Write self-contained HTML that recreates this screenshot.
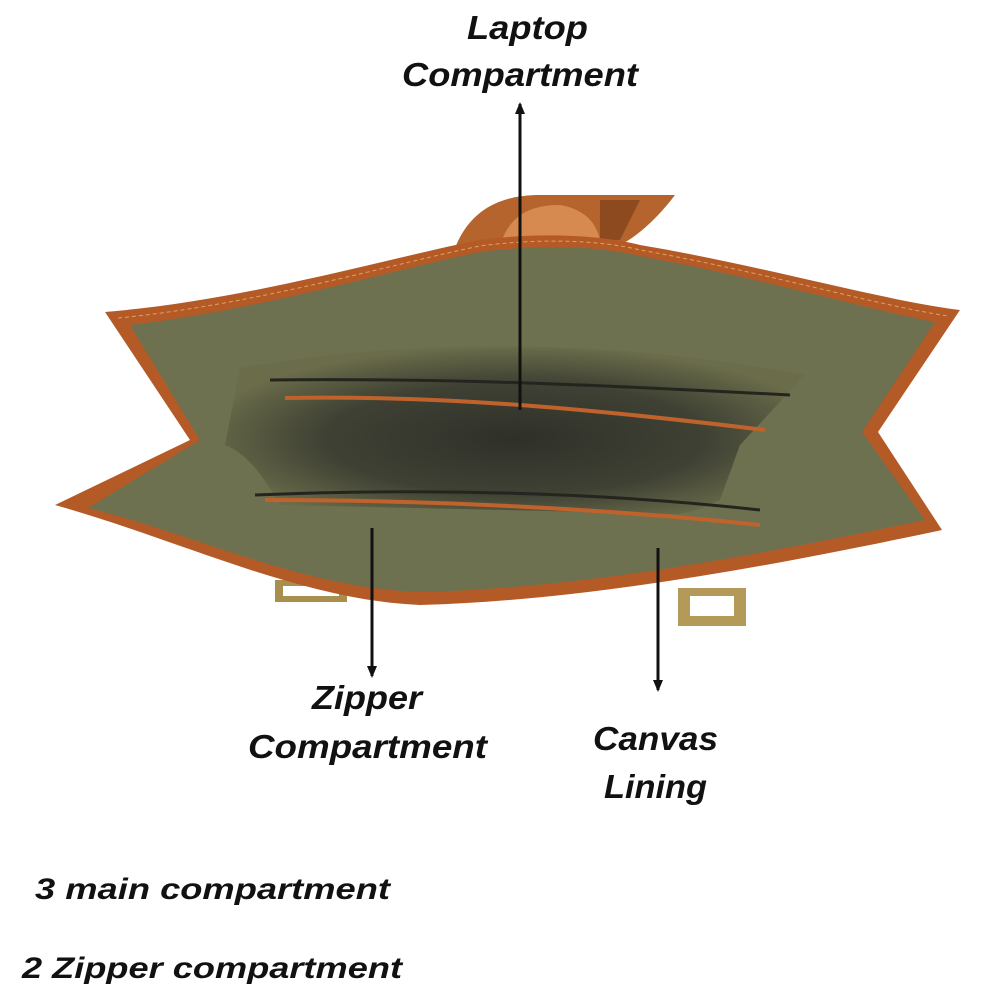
<!DOCTYPE html>
<html><head><meta charset="utf-8"><style>
html,body{margin:0;padding:0;background:#fff;}
svg{display:block}
text{font-family:"Liberation Sans",sans-serif;font-weight:bold;font-style:italic;fill:#111;}
</style></head><body>
<svg width="1000" height="1000" viewBox="0 0 1000 1000">
<defs>
<marker id="ah" markerUnits="userSpaceOnUse" markerWidth="12" markerHeight="10" refX="10" refY="5" orient="auto"><path d="M0,0 L12,5 L0,10 Z" fill="#111"/></marker>
<radialGradient id="inner" cx="50%" cy="55%" r="55%"><stop offset="0" stop-color="#2f3029"/><stop offset="0.6" stop-color="#3f4134"/><stop offset="1" stop-color="#6a6c4a"/></radialGradient>
</defs>
<path d="M455,248 C470,210 500,195 540,195 L675,195 C660,215 640,235 620,245 Z" fill="#b5642e"/>
<path d="M500,245 C510,215 530,205 560,205 C590,210 600,230 600,245 Z" fill="#d78a4f"/>
<path d="M600,200 L640,200 L620,240 L600,240 Z" fill="#8e4a1f"/>
<rect x="275" y="580" width="72" height="22" fill="#a98f4e"/>
<rect x="283" y="586" width="56" height="10" fill="#fff"/>
<rect x="678" y="588" width="68" height="38" fill="#b49a58"/>
<rect x="690" y="596" width="44" height="20" fill="#fff"/>
<path d="M105,312 C250,300 400,255 480,240 C540,232 600,235 640,245 C760,265 880,300 960,310 L878,432 L942,530 C800,560 600,600 420,605 C300,600 180,540 55,505 L190,440 Z" fill="#b45a26"/>
<path d="M130,325 C260,310 400,268 480,252 C540,244 600,246 640,256 C760,278 870,310 935,322 L862,432 L925,520 C790,548 600,588 420,592 C300,588 190,532 88,508 L200,440 Z" fill="#6e7150"/>
<path d="M118,318 C255,305 400,262 480,246 C540,238 600,240 640,250 C760,271 875,305 948,316" stroke="#e0a060" stroke-width="1" fill="none" stroke-dasharray="4 3"/>
<path d="M240,368 C400,340 600,336 805,375 L740,445 L720,500 C700,510 690,512 680,514 L280,505 C265,480 250,455 225,445 Z" fill="url(#inner)"/>
<path d="M285,398 C450,395 600,410 765,430" stroke="#c0622c" stroke-width="4" fill="none"/>
<path d="M265,500 C420,500 600,508 760,525" stroke="#c0622c" stroke-width="4" fill="none"/>
<path d="M270,380 C450,378 600,385 790,395" stroke="#25251f" stroke-width="3" fill="none"/>
<path d="M255,495 C420,488 600,492 760,510" stroke="#25251f" stroke-width="3" fill="none"/>
<line x1="520" y1="410" x2="520" y2="104" stroke="#111" stroke-width="3" marker-end="url(#ah)"/>
<line x1="372" y1="528" x2="372" y2="676" stroke="#111" stroke-width="3" marker-end="url(#ah)"/>
<line x1="658" y1="548" x2="658" y2="690" stroke="#111" stroke-width="3" marker-end="url(#ah)"/>
<text x="467" y="39" font-size="33" textLength="121" lengthAdjust="spacingAndGlyphs">Laptop</text>
<text x="402" y="86" font-size="33" textLength="236" lengthAdjust="spacingAndGlyphs">Compartment</text>
<text x="312" y="709" font-size="33" textLength="110" lengthAdjust="spacingAndGlyphs">Zipper</text>
<text x="248" y="758" font-size="33" textLength="239" lengthAdjust="spacingAndGlyphs">Compartment</text>
<text x="593" y="750" font-size="33" textLength="125" lengthAdjust="spacingAndGlyphs">Canvas</text>
<text x="604" y="798" font-size="33" textLength="103" lengthAdjust="spacingAndGlyphs">Lining</text>
<text x="35" y="899" font-size="30" textLength="355" lengthAdjust="spacingAndGlyphs">3 main compartment</text>
<text x="22" y="978" font-size="30" textLength="380" lengthAdjust="spacingAndGlyphs">2 Zipper compartment</text>
</svg>
</body></html>
